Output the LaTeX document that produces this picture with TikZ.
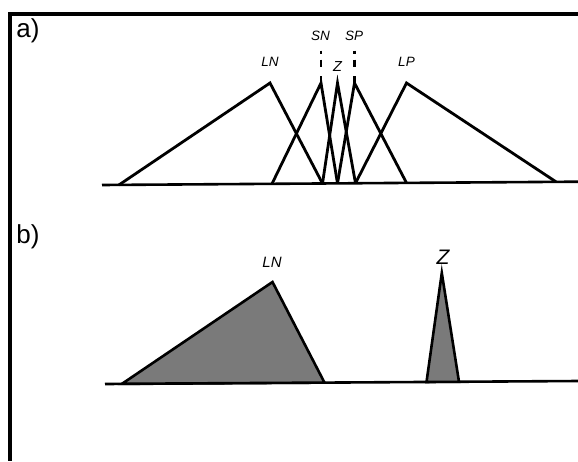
\documentclass[tikz,border=0pt]{standalone}
\usepackage{fontspec}
\setmainfont{Liberation Sans}
\begin{document}
\begin{tikzpicture}[x=1pt,y=-1pt,
  frameline/.style={line width=3.2pt},
  baseln/.style={line width=2.6pt},
  tri/.style={line width=2.8pt, line join=miter},
  shaded/.style={line width=2.6pt, fill=black!52, line join=miter},
  dotseg/.style={line width=2.6pt},
  lbl/.style={inner sep=0pt, font=\fontsize{13.5}{15}\selectfont\itshape},
  panel/.style={inner sep=0pt, font=\fontsize{26}{30}\selectfont}]
\useasboundingbox (0,0) rectangle (578,461);
% frame
\coordinate (fc) at (10,14);
\coordinate (ftr) at (578,14);
\coordinate (fbl) at (10,461);
\draw[frameline] (ftr) -- (fc) -- (fbl);
% panel labels
\node[panel] (pa) at (28,30.5) {a)};
\node[panel] (pb) at (28,237) {b)};
% ---------- panel a ----------
\coordinate (a0) at (102,185);
\coordinate (a1) at (578,181.7);
\draw[baseln] (a0) -- (a1);
% LN
\coordinate (lnL) at (119,184.9);
\coordinate (lnP) at (270,83);
\coordinate (lnR) at (322.5,183.5);
% SN
\coordinate (snL) at (272,183.8);
\coordinate (snP) at (321,83);
\coordinate (snR) at (337.5,183.4);
% Z
\coordinate (zL) at (322.5,183.5);
\coordinate (zP) at (337.5,83);
\coordinate (zR) at (355.5,183.2);
% SP
\coordinate (spL) at (337.5,183.4);
\coordinate (spP) at (354.5,83);
\coordinate (spR) at (406.5,182.9);
% LP
\coordinate (lpL) at (355.5,183.2);
\coordinate (lpP) at (406.5,83);
\coordinate (lpR) at (556,181.8);
\draw[tri] (lnL) -- (lnP) -- (lnR);
\draw[tri] (snL) -- (snP) -- (snR);
\draw[tri] (zL) -- (zP) -- (zR);
\draw[tri] (spL) -- (spP) -- (spR);
\draw[tri] (lpL) -- (lpP) -- (lpR);
% dotted verticals above SN and SP
\foreach \xx in {321, 354.5}{
  \draw[dotseg] (\xx,50.5) -- (\xx,53.8);
  \draw[dotseg] (\xx,59.5) -- (\xx,67);
  \draw[dotseg] (\xx,76) -- (\xx,84);
}
% labels a
\node[lbl] (tLN) at (270,61.5) {LN};
\node[lbl] (tSN) at (320.5,36) {SN};
\node[lbl] (tSP) at (354,36) {SP};
\node[lbl, font=\fontsize{14.5}{16}\selectfont\itshape] (tZ) at (337.5,66.5) {Z};
\node[lbl] (tLP) at (406.5,61.5) {LP};
% ---------- panel b ----------
\coordinate (b0) at (105,384);
\coordinate (b1) at (578,381);
\draw[baseln] (b0) -- (b1);
\coordinate (bLNl) at (122,383.8);
\coordinate (bLNp) at (272.5,282);
\coordinate (bLNr) at (324.5,382.6);
\coordinate (bZl) at (426.5,382);
\coordinate (bZp) at (441.8,273);
\coordinate (bZr) at (459,381.8);
\draw[shaded] (bLNl) -- (bLNp) -- (bLNr) -- cycle;
\draw[shaded] (bZl) -- (bZp) -- (bZr) -- cycle;
\node[lbl, font=\fontsize{15}{17}\selectfont\itshape] (bLN) at (272,262) {LN};
\node[lbl, font=\fontsize{21}{23}\selectfont\itshape] (bZ) at (443,257) {Z};
\end{tikzpicture}
\end{document}
